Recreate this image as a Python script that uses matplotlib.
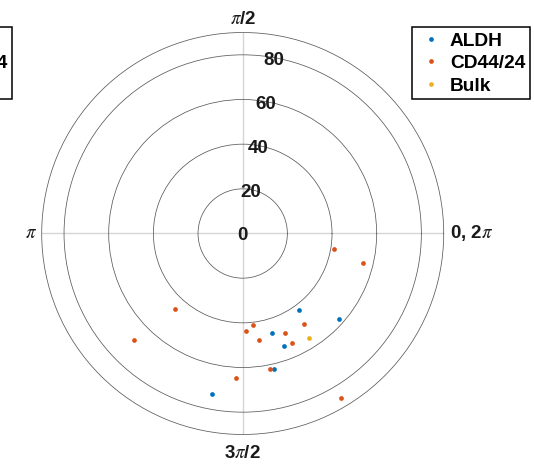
import numpy as np
import matplotlib
matplotlib.use("Agg")
import matplotlib.pyplot as plt
from matplotlib.transforms import offset_copy

plt.rcParams['font.family'] = ['Liberation Sans', 'DejaVu Sans']
plt.rcParams['mathtext.fontset'] = 'stix'

# ---- data (theta in degrees, radius) ----
aldh_theta = [306.5, 318.4, 286.2, 290.1, 282.9, 259.3]
aldh_r     = [42.7, 57.5, 46.3, 53.6, 62.2, 73.3]

cd_theta = [350.1, 346.0, 227.9, 276.2, 304.0, 272.2, 292.8, 224.3, 278.7, 294.0, 281.3, 267.3, 300.8]
cd_r     = [41.4, 55.4, 45.4, 41.2, 49.1, 43.7, 48.3, 68.1, 48.4, 53.8, 62.1, 64.8, 85.9]

bulk_theta = [302.2]
bulk_r     = [55.5]

series_names = ['ALDH', 'CD44/24', 'Bulk']
r_ticks = [0, 20, 40, 60, 80]
r_max = 90
theta_ticks_deg = [0, 90, 180, 270]
theta_labels = ['0, 2$\\pi$', '$\\pi$/2', '$\\pi$', '3$\\pi$/2']

colors = ['#0072BD', '#D95319', '#EDB120']

fig = plt.figure(figsize=(5.34, 4.65), dpi=100)
ax = fig.add_axes([0.0781, 0.0656, 0.7528, 0.8645], projection='polar')
ax.set_ylim(0, r_max)
ax.set_yticks(r_ticks[1:])
ax.set_yticklabels([])
ax.set_xticks(np.deg2rad(theta_ticks_deg))
ax.set_xticklabels([])
ax.tick_params(length=0)
ax.xaxis.grid(True, color='#d6d6d6', lw=1.0)
ax.yaxis.grid(True, color='#5a5a5a', lw=0.55)
ax.spines['polar'].set_color('#5a5a5a')
ax.spines['polar'].set_linewidth(0.55)

ms = 3.4
data = [(aldh_theta, aldh_r), (cd_theta, cd_r), (bulk_theta, bulk_r)]
handles = []
for (th, rr), c, name in zip(data, colors, series_names):
    h, = ax.plot(np.deg2rad(th), rr, 'o', color=c, ms=ms, mew=0, ls='none', label=name)
    handles.append(h)

# radial labels at 80 degrees
tr_down = offset_copy(ax.transData, fig=fig, x=0, y=-2.5, units='dots')
for rv in r_ticks:
    ax.text(np.deg2rad(80), rv, str(rv), ha='center', va='center', transform=tr_down,
            fontsize=13.5, fontweight='bold', color='#1a1a1a')

# theta labels
fs = 13.5
ax.text(0, 92.8, theta_labels[0], ha='left', va='center', fontsize=fs, fontweight='bold', color='#1a1a1a')
ax.text(np.pi/2, 95.8, theta_labels[1], ha='center', va='center', fontsize=fs, fontweight='bold', color='#1a1a1a')
ax.text(np.pi, 92.2, theta_labels[2], ha='right', va='center', fontsize=fs, color='#1a1a1a')
ax.text(3*np.pi/2, 98.4, theta_labels[3], ha='center', va='center', fontsize=fs, fontweight='bold', color='#1a1a1a')

W, H = 534, 465
leg_kw = dict(loc='upper right', frameon=True, fancybox=False, edgecolor='black',
              framealpha=1, borderpad=0.25, handlelength=1.45, handletextpad=0.26,
              labelspacing=0.27, prop={'weight': 'bold', 'size': 13.8},
              borderaxespad=0)
leg1 = fig.legend(handles=handles, bbox_to_anchor=(530 / W, 1 - 27.3 / H), **leg_kw)
leg1.get_frame().set_linewidth(1.1)
leg2 = fig.legend(handles=handles, bbox_to_anchor=(12 / W, 1 - 27.3 / H), **leg_kw)
leg2.get_frame().set_linewidth(1.1)

fig.savefig('out.png', dpi=100)
